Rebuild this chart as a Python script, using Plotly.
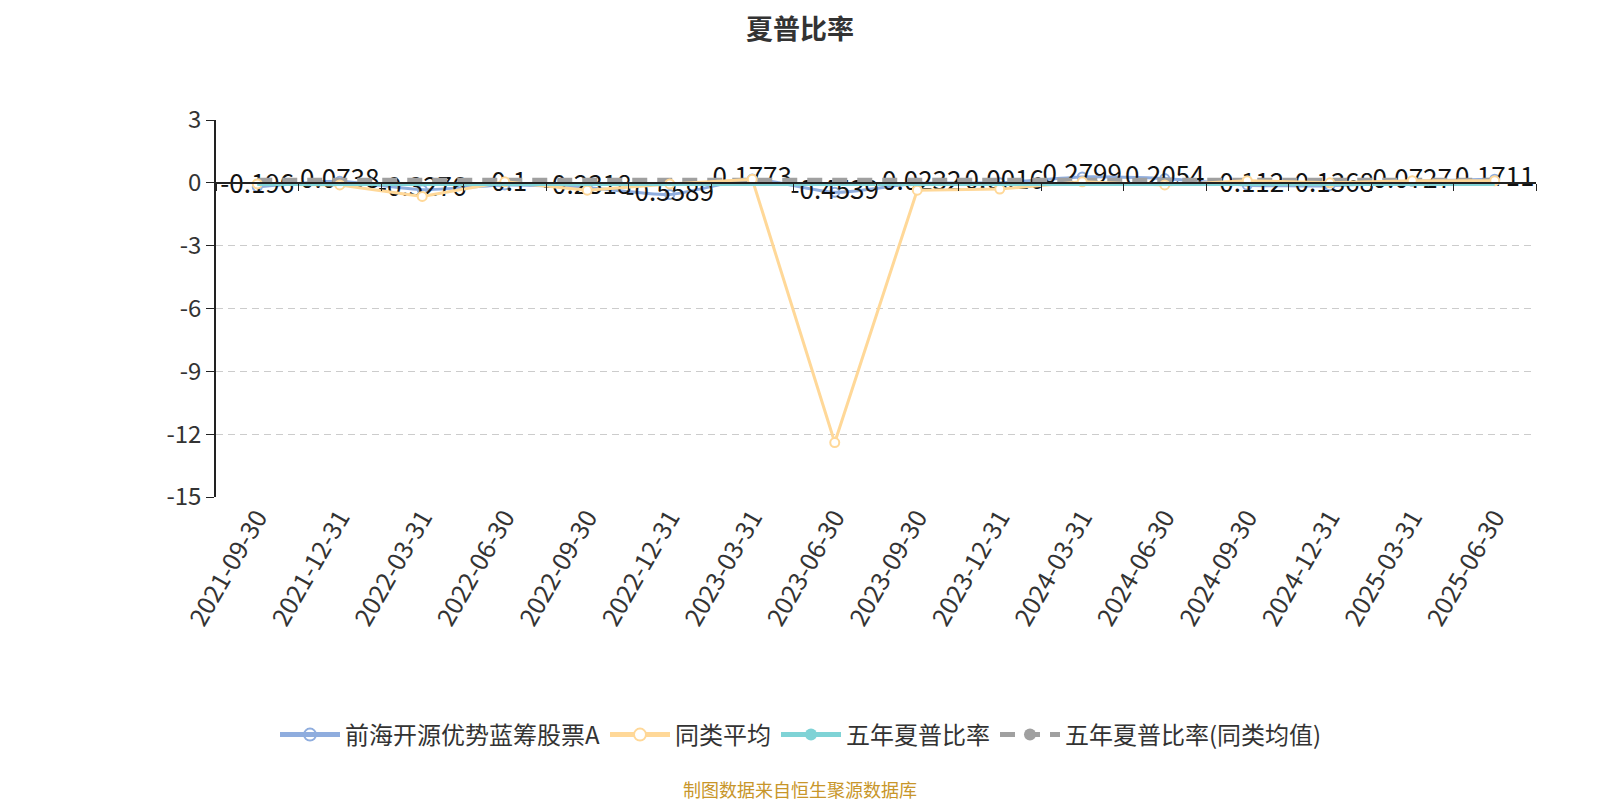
import plotly.graph_objects as go

dates = ["2021-09-30", "2021-12-31", "2022-03-31", "2022-06-30", "2022-09-30",
         "2022-12-31", "2023-03-31", "2023-06-30", "2023-09-30", "2023-12-31",
         "2024-03-31", "2024-06-30", "2024-09-30", "2024-12-31", "2025-03-31",
         "2025-06-30"]
fund_a = [-0.196, 0.0738, -0.3276, -0.1, -0.2318, -0.5589, 0.1773, -0.4539,
          -0.0232, -0.0016, 0.2799, 0.2054, -0.112, -0.1368, 0.0727, 0.1711]
peer_avg = [-0.05, -0.1, -0.65, 0.05, -0.35, -0.05, 0.17, -12.4,
            -0.35, -0.3, 0.05, -0.1, 0.1, 0.0, 0.1, 0.1]
five_year = [-0.05, -0.05, -0.05, -0.05, -0.05, -0.05, -0.05, -0.05,
             -0.05, -0.05, -0.05, -0.05, -0.05, -0.05, -0.05, -0.05]
five_year_peer = [0.12, 0.12, 0.12, 0.12, 0.12, 0.12, 0.12, 0.12,
                  0.12, 0.12, 0.12, 0.12, 0.12, 0.12, 0.12, 0.12]
y_ticks = [3, 0, -3, -6, -9, -12, -15]
y_tick_text = ["3", "0", "-3", "-6", "-9", "-12", "-15"]

names = ["前海开源优势蓝筹股票A", "同类平均", "五年夏普比率", "五年夏普比率(同类均值)"]
c_blue = "#8fadde"
c_orange = "#ffd898"
c_teal = "#7fd3d6"
c_gray = "#a0a0a0"
FONT = "Noto Sans CJK SC"

W, H = 1616, 800
L, R, T, B = 208, 1528, 112, 489   # plot area in figure pixels

fig = go.Figure()
fig.add_trace(go.Scatter(
    x=dates, y=fund_a, name=names[0], mode="lines+markers+text",
    line=dict(color=c_blue, width=3, shape="spline", smoothing=0.6),
    marker=dict(symbol="circle-open", size=9, color=c_blue, line=dict(width=2)),
    text=[str(v) for v in fund_a], textposition="middle center",
    textfont=dict(size=26, color="#111", family=FONT),
    legendrank=1,
))
fig.add_trace(go.Scatter(
    x=dates, y=five_year, name=names[2], mode="lines+markers",
    xaxis="x2",
    line=dict(color=c_teal, width=4),
    marker=dict(size=0.1, color=c_teal),
    legendrank=3,
))
fig.add_trace(go.Scatter(
    x=dates, y=five_year_peer, name=names[3], mode="lines+markers",
    line=dict(color=c_gray, width=5, dash="15px,10px"),
    marker=dict(size=0.1, color=c_gray),
    legendrank=4,
))
fig.add_trace(go.Scatter(
    x=dates, y=peer_avg, name=names[1], mode="lines+markers",
    line=dict(color=c_orange, width=3),
    marker=dict(symbol="circle", size=9, color="white",
                line=dict(color=c_orange, width=2)),
    legendrank=2,
))

cat_range = [-0.5, len(dates) - 0.5]
fig.update_layout(
    width=W, height=H,
    margin=dict(l=L, r=W - R, t=T, b=H - B, autoexpand=False),
    paper_bgcolor="white", plot_bgcolor="white",
    font=dict(family=FONT, color="#333"),
    title=dict(text="<b>夏普比率</b>", x=792 / W, xanchor="center",
               y=1 - 22 / H, yanchor="middle", pad=dict(t=0, b=0),
               font=dict(size=27, color="#333", family=FONT)),
    showlegend=True,
    legend=dict(orientation="h", xref="container", x=793 / W, xanchor="center",
                yref="container", y=1 - 727 / H, yanchor="middle",
                font=dict(size=24, color="#333", family=FONT),
                itemsizing="constant", traceorder="normal", itemwidth=60),
    xaxis=dict(type="category", categoryorder="array", categoryarray=dates,
               range=cat_range, anchor="y", side="bottom",
               tickangle=-60, tickfont=dict(size=25, color="#333", family=FONT),
               showline=False, showgrid=False, zeroline=False, ticks=""),
    xaxis2=dict(type="category", categoryorder="array", categoryarray=dates,
                range=cat_range, overlaying="x", anchor="free",
                position=(0 - y_ticks[-1]) / (y_ticks[0] - y_ticks[-1]),
                showline=True, linecolor="#222", linewidth=1.5,
                ticks="outside", tickson="boundaries", ticklen=7, tickcolor="#222",
                showticklabels=False, showgrid=False, zeroline=False),
    yaxis=dict(range=[y_ticks[-1], y_ticks[0]], tickmode="array",
               tickvals=y_ticks, ticktext=y_tick_text,
               showline=True, linecolor="#222", linewidth=1.5,
               ticks="outside", ticklen=8, tickcolor="#222",
               tickfont=dict(size=24, color="#333", family=FONT),
               showgrid=True, gridcolor="#cccccc", griddash="7px,5px", gridwidth=1.3,
               zeroline=False),
)

fig.add_annotation(text="制图数据来自恒生聚源数据库", xref="paper", yref="paper",
                   x=(792 - L) / (R - L), xanchor="center",
                   y=(B - 781) / (B - T), yanchor="middle", showarrow=False,
                   font=dict(size=18, color="#c8962a", family=FONT))

fig.write_html("out.html")
